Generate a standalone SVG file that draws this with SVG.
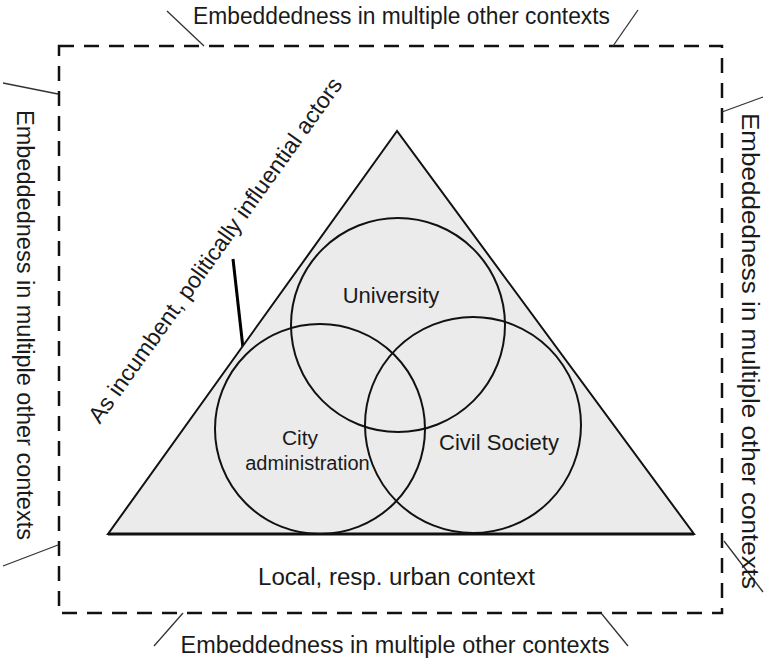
<svg xmlns="http://www.w3.org/2000/svg" width="764" height="662" viewBox="0 0 764 662">
<style>
text{font-family:"Liberation Sans",Arial,sans-serif;fill:#1a1a1a}
.outer{font-size:23px}
.inner{font-size:22px}
.tick{stroke:#333;stroke-width:1.3;fill:none}
.circ{fill:none;stroke:#111;stroke-width:2}
</style>
<g id="context-frame">
<rect x="59" y="46" width="663" height="567" fill="none" stroke="#111" stroke-width="2.5" stroke-dasharray="15 10"/>
</g>
<g id="connectors">
<line class="tick" x1="167" y1="11" x2="204" y2="46"/>
<line class="tick" x1="638" y1="10" x2="613" y2="46"/>
<line class="tick" x1="3" y1="83" x2="58" y2="94"/>
<line class="tick" x1="3" y1="566" x2="58" y2="545"/>
<line class="tick" x1="763" y1="97" x2="722" y2="112"/>
<line class="tick" x1="724" y1="541" x2="763" y2="592"/>
<line class="tick" x1="154" y1="646" x2="183" y2="613"/>
<line class="tick" x1="601" y1="613" x2="628" y2="646"/>
<line x1="233" y1="259" x2="244" y2="357" stroke="#000" stroke-width="3"/>
</g>
<g id="triangle">
<polygon points="397,131 108,534 694,534" fill="#ebebeb" stroke="#111" stroke-width="2"/>
<line x1="108" y1="534" x2="694" y2="534" stroke="#111" stroke-width="3"/>
</g>
<g id="university">
<circle class="circ" cx="398" cy="325" r="107"/>
<text class="inner" x="391" y="303" text-anchor="middle">University</text>
</g>
<g id="city-administration">
<circle class="circ" cx="320" cy="429" r="105"/>
<text x="300" y="445" text-anchor="middle" font-size="21">City</text>
<text x="307.5" y="470" text-anchor="middle" font-size="20">administration</text>
</g>
<g id="civil-society">
<circle class="circ" cx="473" cy="425" r="108"/>
<text class="inner" x="499" y="450" text-anchor="middle">Civil Society</text>
</g>
<g id="labels">
<text class="outer" x="401.5" y="24" text-anchor="middle" textLength="417" lengthAdjust="spacingAndGlyphs">Embeddedness in multiple other contexts</text>
<text class="outer" x="395" y="653" text-anchor="middle" textLength="429" lengthAdjust="spacingAndGlyphs">Embeddedness in multiple other contexts</text>
<text class="outer" x="396.5" y="585" text-anchor="middle" textLength="277" lengthAdjust="spacingAndGlyphs">Local, resp. urban context</text>
<text class="outer" text-anchor="middle" textLength="430" lengthAdjust="spacingAndGlyphs" transform="translate(17,325) rotate(90)">Embeddedness in multiple other contexts</text>
<text class="outer" text-anchor="middle" textLength="476" lengthAdjust="spacingAndGlyphs" transform="translate(742,351) rotate(90)">Embeddedness in multiple other contexts</text>
<text class="outer" text-anchor="middle" transform="translate(221.5,254.7) rotate(-54.4)">As incumbent, politically influential actors</text>
</g>
</svg>
